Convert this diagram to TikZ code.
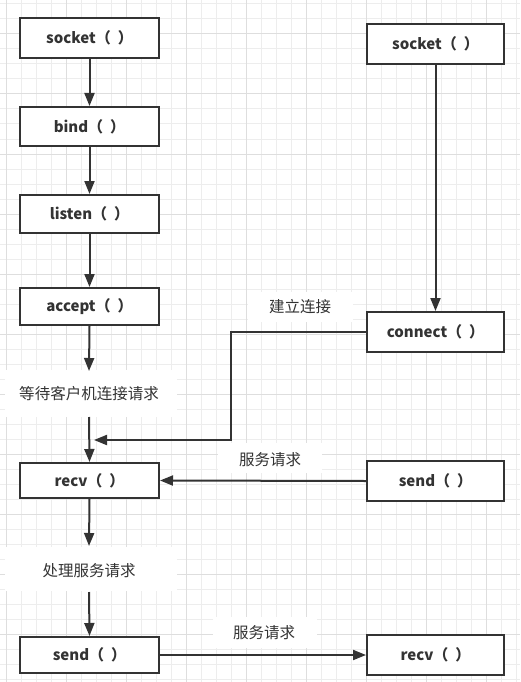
\documentclass[tikz,border=0pt]{standalone}
\usepackage{fontspec}
\newfontfamily\cjk{Noto Sans CJK SC}
\usetikzlibrary{arrows.meta}
\definecolor{ink}{HTML}{333333}
\definecolor{gridminor}{HTML}{EDEDED}
\definecolor{gridmajor}{HTML}{DEDEDE}
\newcommand{\pp}{（\hspace{7pt}）}
\tikzset{
  fbox/.style={draw=ink, line width=2pt, fill=white, minimum width=139pt, minimum height=38pt, inner sep=0pt, font=\cjk\bfseries\fontsize{15}{18}\selectfont, text=ink},
  lbl/.style={fill=white, inner sep=0pt, font=\cjk\fontsize{15.5}{18}\selectfont, text=ink},
  conn/.style={draw=ink, line width=2pt},
  arr/.style={conn, -{Triangle[length=13pt,width=10pt]}},
}
\begin{document}
\begin{tikzpicture}[x=1pt,y=-1pt]
\useasboundingbox (0,0) rectangle (520,682);
\fill[white] (0,0) rectangle (520,682);
% grid
\foreach \k in {0,...,34} {\draw[gridminor, line width=1pt] (6+15*\k,0) -- (6+15*\k,682);}
\foreach \k in {0,...,45} {\draw[gridminor, line width=1pt] (0,4+15*\k) -- (520,4+15*\k);}
\foreach \k in {0,...,8} {\draw[gridmajor, line width=1pt] (6+60*\k,0) -- (6+60*\k,682);}
\foreach \k in {0,...,11} {\draw[gridmajor, line width=1pt] (0,34+60*\k) -- (520,34+60*\k);}
% label backgrounds
\fill[white] (5,370) rectangle (177,417);
\fill[white] (5,547) rectangle (177,591);
\fill[white] (248,292) rectangle (353,322);
\fill[white] (218,443) rectangle (322,473);
\fill[white] (213,617) rectangle (317,648);
% left column
\node[fbox, minimum height=40pt] (s1) at (89.5,38) {socket\pp};
\node[fbox, minimum height=39pt] (b1) at (89.5,126.5) {bind\pp};
\node[fbox] (l1) at (89.5,214) {listen\pp};
\node[fbox, minimum height=37pt] (a1) at (89.5,306.5) {accept\pp};
\node[lbl] (w1) at (89,394) {等待客户机连接请求};
\node[fbox, minimum height=35pt] (r1) at (89.5,480.5) {recv\pp};
\node[lbl] (p1) at (89,571) {处理服务请求};
\node[fbox, minimum height=36pt] (d1) at (89.5,655) {send\pp};
% right column
\node[fbox, minimum width=137pt, minimum height=40pt] (s2) at (435.5,44) {socket\pp};
\node[fbox, minimum width=137pt, minimum height=40pt] (c2) at (435.5,332) {connect\pp};
\node[fbox, minimum width=137pt, minimum height=40pt] (d2) at (435.5,481) {send\pp};
\node[fbox, minimum width=137pt, minimum height=40pt] (r2) at (435.5,655) {recv\pp};
% labels
\node[lbl] (t1) at (300,307) {建立连接};
\node[lbl] (t2) at (270,460) {服务请求};
\node[lbl] (t3) at (264,633) {服务请求};
% coordinates
\coordinate (w1top) at (89,371);
\coordinate (w1bot) at (89,417);
\coordinate (p1top) at (89,546);
\coordinate (p1bot) at (89,592);
\coordinate (ctip) at (94,440);
% connectors
\draw[arr] (s1.south) -- (b1.north);
\draw[arr] (b1.south) -- (l1.north);
\draw[arr] (l1.south) -- (a1.north);
\draw[arr] (a1.south) -- (w1top);
\draw[arr] (w1bot) -- (r1.north);
\draw[arr] (r1.south) -- (p1top);
\draw[arr] (p1bot) -- (d1.north);
\draw[arr] (s2.south) -- (c2.north);
\draw[arr] (c2.west) -- (231,332) -- (231,440) -- (ctip);
\draw[arr] (d2.west) -- (r1.east);
\draw[arr] (d1.east) -- (r2.west);
\end{tikzpicture}
\end{document}
